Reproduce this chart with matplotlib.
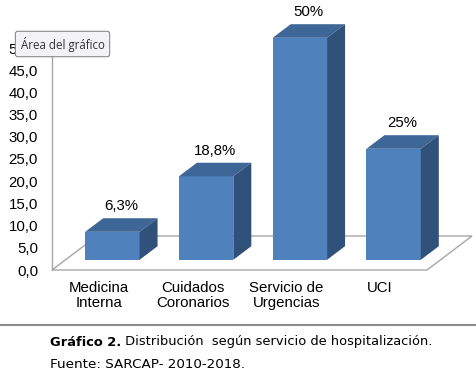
import matplotlib
matplotlib.use("Agg")
import matplotlib.pyplot as plt
from matplotlib.patches import Polygon, Rectangle
from matplotlib.lines import Line2D

# ---------------- data ----------------
categories = ["Medicina\nInterna", "Cuidados\nCoronarios", "Servicio de\nUrgencias", "UCI"]
values = [6.3, 18.8, 50.0, 25.0]
value_labels = ["6,3%", "18,8%", "50%", "25%"]
y_ticks = [0, 5, 10, 15, 20, 25, 30, 35, 40, 45, 50]
y_tick_labels = ["0,0", "5,0", "10,0", "15,0", "20,0", "25,0", "30,0", "35,0", "40,0", "45,0", "50,0"]
caption_bold = "Gráfico 2."
caption_rest = " Distribución  según servicio de hospitalización."
source_text = "Fuente: SARCAP- 2010-2018."
tooltip_text = "Área del gráfico"

# ---------------- layout ----------------
W, H = 477, 372
DPI = 100
fig = plt.figure(figsize=(W / DPI, H / DPI), dpi=DPI)
fig.patch.set_facecolor("white")

left_px, right_px, bottom_px, top_px = 52, 427, 270, 48
ax = fig.add_axes([left_px / W, 1 - bottom_px / H,
                   (right_px - left_px) / W, (bottom_px - top_px) / H])
ax.set_xlim(-0.5, len(categories) - 0.5)
ax.set_ylim(0, 50)
ax.set_facecolor("none")

xppu = (right_px - left_px) / len(categories)
yppu = (bottom_px - top_px) / 50.0

# depth vector of floor (pixels) -> data units
floor_dx = 45 / xppu
floor_dy = 34 / yppu
f0, f1 = 0.3, 0.7
bar_w = 0.58

FONT = "Liberation Sans"

# floor
floor = Polygon([(-0.5, 0), (3.5, 0), (3.5 + floor_dx, floor_dy), (-0.5 + floor_dx, floor_dy)],
                closed=True, facecolor="white", edgecolor="#A6A6A6", lw=1.0,
                clip_on=False, zorder=1)
ax.add_patch(floor)

front_c = "#4F81BD"
top_c = "#3E6697"
side_c = "#30517A"

bdx = (f1 - f0) * floor_dx
bdy = (f1 - f0) * floor_dy
for i, v in enumerate(values):
    x0 = i - bar_w / 2 + f0 * floor_dx
    y0 = f0 * floor_dy
    ax.add_patch(Rectangle((x0, y0), bar_w, v, facecolor=front_c, edgecolor="none",
                           clip_on=False, zorder=3))
    ax.add_patch(Polygon([(x0, y0 + v), (x0 + bar_w, y0 + v),
                          (x0 + bar_w + bdx, y0 + v + bdy), (x0 + bdx, y0 + v + bdy)],
                         closed=True, facecolor=top_c, edgecolor="none", clip_on=False, zorder=3))
    ax.add_patch(Polygon([(x0 + bar_w, y0), (x0 + bar_w, y0 + v),
                          (x0 + bar_w + bdx, y0 + v + bdy), (x0 + bar_w + bdx, y0 + bdy)],
                         closed=True, facecolor=side_c, edgecolor="none", clip_on=False, zorder=3))
    ax.text(x0 + bar_w / 2 + bdx / 2, y0 + v + bdy + 12 / yppu, value_labels[i],
            ha="center", va="center", fontsize=10.8, family=FONT, color="black", clip_on=False)
    ax.text(i, -11 / yppu, categories[i], ha="center", va="top", fontsize=10.8,
            family=FONT, linespacing=1.12, clip_on=False)

# axes styling
for s in ["top", "right", "bottom"]:
    ax.spines[s].set_visible(False)
ax.spines["left"].set_color("#A6A6A6")
ax.spines["left"].set_linewidth(1.0)
ax.set_xticks([])
ax.set_yticks(y_ticks)
ax.set_yticklabels(y_tick_labels, fontsize=10.8, family=FONT)
ax.tick_params(axis="y", length=0, pad=10)

# separator line
fig.add_artist(Line2D([0, 1], [1 - 325 / H, 1 - 325 / H], color="#8C8C8C", lw=1.5))

# caption
CAP = 9.4
t1 = fig.text(50 / W, 1 - 342 / H, caption_bold, fontsize=CAP, family="DejaVu Sans",
              fontweight="bold", va="center", ha="left")
fig.canvas.draw()
r = fig.canvas.get_renderer()
bb = t1.get_window_extent(renderer=r)
fig.text(bb.x1 / W, 1 - 342 / H, caption_rest, fontsize=CAP, family="DejaVu Sans",
         va="center", ha="left")
fig.text(50 / W, 1 - 365 / H, source_text, fontsize=9.7, family="DejaVu Sans",
         va="center", ha="left")

# tooltip overlay
fig.text(62.5 / W, 1 - 44 / H, tooltip_text, fontsize=8.3, family="Open Sans",
         ha="center", va="center", color="#333333", zorder=10,
         bbox=dict(boxstyle="round,pad=0.45,rounding_size=0.2", facecolor="#F3F3F6",
                   edgecolor="#8A8A8A", lw=0.8))

fig.savefig("out.png", dpi=DPI, facecolor="white")
